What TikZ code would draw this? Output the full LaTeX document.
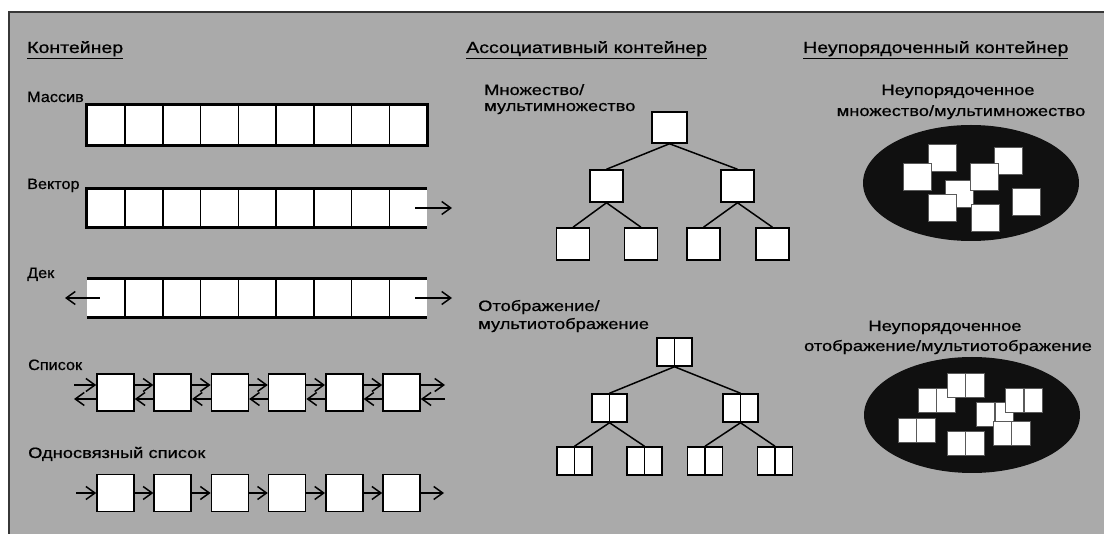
\documentclass[tikz,border=0pt]{standalone}
\usepackage{fontspec}
\setmainfont{Liberation Sans}[FakeStretch=1.22,FakeBold=0.7]
\newfontfamily\shortfont{Liberation Sans}[FakeStretch=1.08,FakeBold=0.7]
\usetikzlibrary{arrows.meta,shapes.geometric}

\definecolor{paper}{RGB}{170,170,170}
\definecolor{frameline}{RGB}{55,55,55}
\definecolor{blob}{RGB}{16,16,16}
\definecolor{chipline}{RGB}{90,90,90}

\tikzset{
  lbl/.style={anchor=base west, inner sep=0pt, font=\fontsize{15}{18}\selectfont},
  lblshort/.style={anchor=base west, inner sep=0pt, font=\shortfont\fontsize{15}{18}\selectfont},
  head/.style={anchor=base west, inner sep=0pt, font=\fontsize{16}{19}\selectfont},
  lblc/.style={anchor=base, inner sep=0pt, font=\fontsize{15}{18}\selectfont},
  cell/.style={fill=white, inner sep=0pt, minimum width=37.78pt, minimum height=#1},
  divider/.style={line width=1.6pt},
  rail/.style={line width=3.2pt},
  ptr/.style={line width=1.5pt, -{Straight Barb[length=9pt,width=13pt,line width=1.5pt]}},
  listbox/.style={draw, line width=1.6pt, fill=white, inner sep=0pt, minimum width=37pt, minimum height=37pt},
  treebox/.style={draw, line width=1.5pt, fill=white, inner sep=0pt, minimum width=33pt, minimum height=32pt},
  pairbox/.style={draw, line width=1.5pt, fill=white, inner sep=0pt, minimum width=35pt, minimum height=28pt,
    path picture={\draw[line width=1.5pt] (path picture bounding box.north) -- (path picture bounding box.south);}},
  edge/.style={line width=1.5pt},
  blobshape/.style={ellipse, fill=blob, inner sep=0pt, minimum width=216pt, minimum height=116pt},
  chip/.style={draw=chipline, line width=0.9pt, fill=white, inner sep=0pt, minimum width=28pt, minimum height=27pt},
  chippair/.style={draw=chipline, line width=0.9pt, fill=white, inner sep=0pt, minimum width=37pt, minimum height=24pt,
    path picture={\draw[chipline, line width=1.2pt] (path picture bounding box.north) -- (path picture bounding box.south);}},
}

\begin{document}
\begin{tikzpicture}[x=1pt,y=-1pt]
\useasboundingbox (0,0) rectangle (1104,534);

% background sheet
\fill[paper] (9,12) rectangle (1104,534);
\draw[frameline, line width=1.5pt] (9,534) -- (9,12) -- (1104,12);

% column headings
\node[head] (hseq) at (27,53) {\underline{Контейнер}};
\node[head] (hass) at (466,53) {\underline{Ассоциативный контейнер}};
\node[head] (hunord) at (803,53) {\underline{Неупорядоченный контейнер}};

% ---------- sequence containers ----------
% array
\node[lblshort] (larr) at (27,102) {Массив};
\foreach \i in {1,...,9}
  \node[cell=40pt] (m\i) at ({87+37.78*(\i-0.5)},125) {};
\foreach \i in {1,...,8}
  \draw[divider] (m\i.north east) -- (m\i.south east);
\draw[rail] (m1.north west) rectangle (m9.south east);

% vector
\node[lblshort] (lvec) at (27,189) {Вектор};
\foreach \i in {1,...,9}
  \node[cell=38pt] (v\i) at ({87+37.78*(\i-0.5)},208) {};
\foreach \i in {1,...,8}
  \draw[divider] (v\i.north east) -- (v\i.south east);
\draw[rail] (v9.north east) -- (v1.north west) -- (v1.south west) -- (v9.south east);
\coordinate (vgrow) at (452,208);
\draw[ptr] ([xshift=-12pt]v9.east) -- (vgrow);

% deque
\node[lblshort] (ldeq) at (27,278) {Дек};
\foreach \i in {1,...,9}
  \node[cell=38pt] (d\i) at ({87+37.78*(\i-0.5)},298) {};
\foreach \i in {1,...,8}
  \draw[divider] (d\i.north east) -- (d\i.south east);
\draw[rail] (d1.north west) -- (d9.north east);
\draw[rail] (d1.south west) -- (d9.south east);
\coordinate (dgrowl) at (65,298);
\coordinate (dgrowr) at (452,298);
\draw[ptr] ([xshift=13pt]d1.west) -- (dgrowl);
\draw[ptr] ([xshift=-12pt]d9.east) -- (dgrowr);

% doubly linked list
\node[lblshort] (llist) at (28,370) {Список};
\foreach \i in {1,...,6}
  \node[listbox] (l\i) at ({115.5+57.2*(\i-1)},392.5) {};
\coordinate (l0t) at (74,385);
\coordinate (l0b) at (74,399);
\coordinate (l7t) at (445,385);
\coordinate (l7b) at (445,399);
\draw[ptr] (l0t) -- ([yshift=7.5pt]l1.west);
\draw[ptr] ([yshift=-6.5pt]l1.west) -- (l0b);
\foreach \i [evaluate=\i as \j using int(\i+1)] in {1,...,5} {
  \draw[ptr] ([yshift=7.5pt]l\i.east) -- ([yshift=7.5pt]l\j.west);
  \draw[ptr] ([yshift=-6.5pt]l\j.west) -- ([yshift=-6.5pt]l\i.east);
}
\draw[ptr] ([yshift=7.5pt]l6.east) -- (l7t);
\draw[ptr] (l7b) -- ([yshift=-6.5pt]l6.east);

% singly linked list
\node[lbl] (lslist) at (28,458) {Односвязный список};
\foreach \i in {1,...,6}
  \node[listbox] (f\i) at ({115.5+57.2*(\i-1)},493) {};
\coordinate (f0) at (76,493);
\coordinate (f7) at (444,493);
\draw[ptr] (f0) -- (f1.west);
\foreach \i [evaluate=\i as \j using int(\i+1)] in {1,...,5}
  \draw[ptr] (f\i.east) -- (f\j.west);
\draw[ptr] (f6.east) -- (f7);

% ---------- associative containers ----------
\node[lbl] (lset1) at (484,95) {Множество/};
\node[lbl] (lset2) at (484,111) {мультимножество};
\node[treebox, minimum width=35pt, minimum height=31pt] (t0) at (669.5,127.5) {};
\node[treebox] (t1) at (606.5,186) {};
\node[treebox] (t2) at (737.5,186) {};
\node[treebox] (t3) at (573,244) {};
\node[treebox] (t4) at (641,244) {};
\node[treebox] (t5) at (703.5,244) {};
\node[treebox] (t6) at (772.5,244) {};
\draw[edge] (t0.south) -- (t1.north);
\draw[edge] (t0.south) -- (t2.north);
\draw[edge] (t1.south) -- (t3.north);
\draw[edge] (t1.south) -- (t4.north);
\draw[edge] (t2.south) -- (t5.north);
\draw[edge] (t2.south) -- (t6.north);

\node[lbl] (lmap1) at (478,311) {Отображение/};
\node[lbl] (lmap2) at (478,329) {мультиотображение};
\node[pairbox] (r0) at (674.5,352) {};
\node[pairbox] (r1) at (609.5,408) {};
\node[pairbox] (r2) at (740.5,408) {};
\node[pairbox] (r3) at (574.5,461) {};
\node[pairbox] (r4) at (644.5,461) {};
\node[pairbox] (r5) at (705,461) {};
\node[pairbox] (r6) at (775,461) {};
\draw[edge] (r0.south) -- (r1.north);
\draw[edge] (r0.south) -- (r2.north);
\draw[edge] (r1.south) -- (r3.north);
\draw[edge] (r1.south) -- (r4.north);
\draw[edge] (r2.south) -- (r5.north);
\draw[edge] (r2.south) -- (r6.north);

% ---------- unordered containers ----------
\node[lblc] (luset1) at (958,95) {Неупорядоченное};
\node[lblc] (luset2) at (961,116) {множество/мультимножество};
\node[blobshape] (uset) at (971,183) {};
\node[chip] (c5) at (959.5,194) {};
\node[chip] (c1) at (942,157.5) {};
\node[chip] (c2) at (917,177) {};
\node[chip] (c3) at (1008.5,160.5) {};
\node[chip] (c4) at (984.5,177) {};
\node[chip] (c6) at (942.5,208) {};
\node[chip] (c7) at (985,218) {};
\node[chip] (c8) at (1026.5,202) {};

\node[lblc] (lumap1) at (945,331) {Неупорядоченное};
\node[lblc] (lumap2) at (948,351) {отображение/мультиотображение};
\node[blobshape] (umap) at (972,415) {};
\node[chippair] (pb) at (936.5,400) {};
\node[chippair] (pd) at (995,414.5) {};
\node[chippair] (pa) at (965.5,385) {};
\node[chippair] (pc) at (1024,400) {};
\node[chippair] (pe) at (1011.5,433.5) {};
\node[chippair] (pf) at (916.5,430) {};
\node[chippair] (pg) at (965.5,443) {};
\end{tikzpicture}
\end{document}
